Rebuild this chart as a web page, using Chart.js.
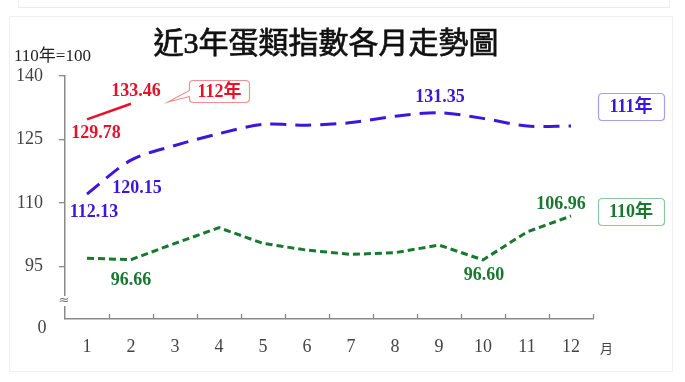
<!DOCTYPE html>
<html>
<head>
<meta charset="utf-8">
<script src="https://cdn.jsdelivr.net/npm/chart.js@4/dist/chart.umd.min.js"></script>
<style>
  html, body { margin: 0; padding: 0; background: #ffffff; }
  #wrap { position: relative; width: 685px; height: 382px; overflow: hidden; background: #fff; }
  #topstrip { position: absolute; left: 18px; top: -2px; width: 650px; height: 8px; border: 1px solid #ececec; }
  #card { position: absolute; left: 9px; top: 16px; width: 662px; height: 354px; border: 1px solid #f0f0f0; }
  canvas { position: absolute; left: 0; top: 0; }
</style>
</head>
<body>
<div id="wrap">
  <div id="topstrip"></div>
  <div id="card"></div>
  <canvas id="c" width="685" height="382"></canvas>
</div>
<script>
// ---- data ----
const months = ['1','2','3','4','5','6','7','8','9','10','11','12'];
const series110 = [97.0, 96.66, 100.5, 104.2, 100.5, 98.9, 97.9, 98.3, 100.1, 96.60, 103.2, 106.96];
const series111 = [112.13, 120.15, 123.6, 126.4, 128.6, 128.4, 129.0, 130.5, 131.35, 130.0, 128.2, 128.2];
const series112 = [129.78, 133.46, null, null, null, null, null, null, null, null, null, null];
const seriesNames = ['110年', '111年', '112年'];
const yTicks = [95, 110, 125, 140];
const yBreakLabel = '0';
const titleText = '近3年蛋類指數各月走勢圖';
const unitText = '110年=100';
const xUnitText = '月';

const RED = '#e8102a', BLUE = '#3d16dc', GREEN = '#17782e';
const SERIF = '"Liberation Serif", "Noto Sans CJK TC", serif';
const AXIS = '#8a8a8a';

const labelSpecs = [
  { ds: 2, idx: 0, dx: 9, dy: 14 },
  { ds: 2, idx: 1, dx: 5, dy: -12 },
  { ds: 1, idx: 0, dx: 7, dy: 18 },
  { ds: 1, idx: 1, dx: 6, dy: 28 },
  { ds: 1, idx: 8, dx: 1, dy: -15 },
  { ds: 0, idx: 1, dx: 0, dy: 21 },
  { ds: 0, idx: 9, dx: 1, dy: 15 },
  { ds: 0, idx: 11, dx: -10, dy: -12 }
];

function roundRect(ctx, x, y, w, h, r) {
  ctx.beginPath();
  ctx.moveTo(x + r, y);
  ctx.lineTo(x + w - r, y);
  ctx.quadraticCurveTo(x + w, y, x + w, y + r);
  ctx.lineTo(x + w, y + h - r);
  ctx.quadraticCurveTo(x + w, y + h, x + w - r, y + h);
  ctx.lineTo(x + r, y + h);
  ctx.quadraticCurveTo(x, y + h, x, y + h - r);
  ctx.lineTo(x, y + r);
  ctx.quadraticCurveTo(x, y, x + r, y);
  ctx.closePath();
}

const decor = {
  id: 'decor',
  afterDraw(chart) {
    const ctx = chart.ctx;
    const xs = chart.scales.x, ys = chart.scales.y;
    ctx.save();
    // title
    ctx.fillStyle = '#111';
    ctx.strokeStyle = '#111';
    ctx.lineWidth = 0.7;
    ctx.font = '30px ' + SERIF;
    ctx.textAlign = 'center';
    ctx.textBaseline = 'middle';
    ctx.fillText(titleText, 326, 45);
    ctx.strokeText(titleText, 326, 45);
    // unit
    ctx.font = '17px ' + SERIF;
    ctx.textAlign = 'left';
    ctx.fillStyle = '#222';
    ctx.fillText(unitText, 14, 57);
    // x tick marks (inside, between categories)
    const step = xs.getPixelForValue(1) - xs.getPixelForValue(0);
    ctx.strokeStyle = AXIS;
    ctx.lineWidth = 1.3;
    for (let i = 1; i <= months.length; i++) {
      const x = Math.round(xs.getPixelForValue(0) + (i - 0.5) * step) + 0.5;
      ctx.beginPath();
      ctx.moveTo(x, ys.bottom);
      ctx.lineTo(x, ys.bottom - 5);
      ctx.stroke();
    }
    // x unit
    ctx.fillStyle = '#444';
    ctx.font = '13px "Noto Sans CJK TC", sans-serif';
    ctx.textAlign = 'left';
    ctx.fillText(xUnitText, 600, 348);
    // break label and symbol
    ctx.font = '18px ' + SERIF;
    ctx.textAlign = 'center';
    ctx.fillStyle = '#444';
    ctx.fillText(yBreakLabel, 42, 328);
    ctx.fillStyle = '#fff';
    ctx.fillRect(xs.left - 4, 296, 8, 10);
    ctx.fillStyle = '#777';
    ctx.font = '13px "DejaVu Sans", sans-serif';
    ctx.fillText('≈', xs.left - 1, 301);
    // data labels
    const colors = [GREEN, BLUE, RED];
    ctx.font = 'bold 18px ' + SERIF;
    labelSpecs.forEach(s => {
      const meta = chart.getDatasetMeta(s.ds);
      const pt = meta.data[s.idx];
      const v = chart.data.datasets[s.ds].data[s.idx];
      ctx.fillStyle = colors[s.ds];
      ctx.textAlign = 'center';
      ctx.fillText(v.toFixed(2), pt.x + s.dx, pt.y + s.dy);
    });
    // legend boxes
    const boxes = [
      { name: seriesNames[1], x: 598, y: 93, w: 66, h: 27, border: '#a99cf2', color: BLUE },
      { name: seriesNames[0], x: 598, y: 198, w: 66, h: 27, border: '#8cc79a', color: GREEN }
    ];
    boxes.forEach(b => {
      ctx.lineWidth = 1.2;
      ctx.strokeStyle = b.border;
      ctx.fillStyle = '#fff';
      roundRect(ctx, b.x + 0.5, b.y + 0.5, b.w, b.h, 4);
      ctx.fill(); ctx.stroke();
      ctx.fillStyle = b.color;
      ctx.font = 'bold 18px ' + SERIF;
      ctx.textAlign = 'center';
      ctx.fillText(b.name, b.x + b.w / 2, b.y + b.h / 2 + 1);
    });
    // callout for 112
    const cx = 189.5, cy = 80.5, cw = 60, ch = 22;
    ctx.strokeStyle = '#f09090';
    ctx.fillStyle = '#fff';
    ctx.lineWidth = 1.2;
    ctx.beginPath();
    ctx.moveTo(cx + 4, cy);
    ctx.lineTo(cx + cw - 4, cy);
    ctx.quadraticCurveTo(cx + cw, cy, cx + cw, cy + 4);
    ctx.lineTo(cx + cw, cy + ch - 4);
    ctx.quadraticCurveTo(cx + cw, cy + ch, cx + cw - 4, cy + ch);
    ctx.lineTo(cx + 4, cy + ch);
    ctx.quadraticCurveTo(cx, cy + ch, cx, cy + ch - 4);
    ctx.lineTo(cx, cy + 16);
    ctx.lineTo(168, 102);
    ctx.lineTo(cx, cy + 10);
    ctx.lineTo(cx, cy + 4);
    ctx.quadraticCurveTo(cx, cy, cx + 4, cy);
    ctx.closePath();
    ctx.fill(); ctx.stroke();
    ctx.fillStyle = RED;
    ctx.font = 'bold 18px ' + SERIF;
    ctx.textAlign = 'center';
    ctx.fillText(seriesNames[2], cx + cw / 2, cy + ch / 2 + 1);
    ctx.restore();
  }
};

new Chart(document.getElementById('c'), {
  type: 'line',
  data: {
    labels: months,
    datasets: [
      { label: seriesNames[0], data: series110, borderColor: GREEN, borderWidth: 3, borderDash: [7, 4], pointRadius: 0, tension: 0, fill: false },
      { label: seriesNames[1], data: series111, borderColor: BLUE, borderWidth: 3, borderDash: [16, 9], pointRadius: 0, tension: 0.3, fill: false },
      { label: seriesNames[2], data: series112, borderColor: RED, borderWidth: 2.5, pointRadius: 0, tension: 0, fill: false, spanGaps: false }
    ]
  },
  options: {
    responsive: false,
    animation: false,
    layout: { padding: { left: 0, right: 92, top: 76, bottom: 0 } },
    plugins: { legend: { display: false }, title: { display: false }, tooltip: { enabled: false } },
    scales: {
      x: {
        type: 'category',
        offset: true,
        grid: { display: false, drawTicks: false },
        border: { display: true, color: AXIS, width: 1.5 },
        ticks: { color: '#444', font: { family: SERIF, size: 18 }, padding: 17, maxRotation: 0 },
        afterFit(scale) { scale.height = 63; }
      },
      y: {
        min: 82.65,
        max: 140,
        afterBuildTicks(scale) { scale.ticks = yTicks.map(v => ({ value: v })); },
        grid: { drawOnChartArea: false, drawTicks: true, tickLength: 6, color: AXIS, lineWidth: 1.3 },
        border: { display: true, color: AXIS, width: 1.5 },
        ticks: { color: '#444', font: { family: SERIF, size: 18 }, padding: 16, callback: v => String(v) },
        afterFit(scale) { scale.width = 65; }
      }
    }
  },
  plugins: [decor]
});
</script>
</body>
</html>
